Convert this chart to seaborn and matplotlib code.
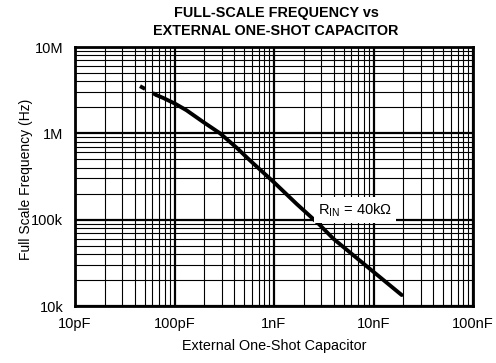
import matplotlib
matplotlib.use("Agg")
import matplotlib.pyplot as plt
import seaborn as sns
import numpy as np
import pandas as pd
from matplotlib.ticker import LogLocator, NullFormatter

sns.set_style("white")
plt.rcParams['font.family'] = ['Liberation Sans', 'DejaVu Sans']
plt.rcParams['text.color'] = 'black'
plt.rcParams['axes.labelcolor'] = 'black'
plt.rcParams['xtick.color'] = 'black'
plt.rcParams['ytick.color'] = 'black'

# Data (capacitance in pF, frequency in Hz)
dash_cap = [45, 66]
dash_freq = [3.52e6, 2.77e6]
solid_cap = [66, 77, 101, 132, 195, 287, 422, 574, 1020, 1690, 2850, 3960, 8500, 19200]
solid_freq = [2.77e6, 2.57e6, 2.21e6, 1.85e6, 1.35e6, 1.0e6, 680e3, 485e3, 265e3,
              152e3, 88e3, 60e3, 29e3, 13.4e3]

x_ticks = [10, 100, 1000, 10000, 100000]
x_labels = ['10pF', '100pF', '1nF', '10nF', '100nF']
y_ticks = [1e4, 1e5, 1e6, 1e7]
y_labels = ['10k', '100k', '1M', '10M']

fig = plt.figure(figsize=(4.96, 3.63), dpi=100)
ax = fig.add_axes([75/496, 1-306/363, (473-75)/496, (306-47)/363])
ax.set_xscale('log')
ax.set_yscale('log')
ax.set_xlim(10, 1e5)
ax.set_ylim(1e4, 1e7)

ax.xaxis.set_minor_locator(LogLocator(base=10, subs=np.arange(2, 10)))
ax.yaxis.set_minor_locator(LogLocator(base=10, subs=np.arange(2, 10)))
ax.xaxis.set_minor_formatter(NullFormatter())
ax.yaxis.set_minor_formatter(NullFormatter())
ax.grid(which='major', color='black', linewidth=1.6)
ax.grid(which='minor', color='black', linewidth=0.8)
ax.set_axisbelow(True)

df_s = pd.DataFrame({'cap': solid_cap, 'freq': solid_freq})
df_d = pd.DataFrame({'cap': dash_cap, 'freq': dash_freq})
sns.lineplot(data=df_s, x='cap', y='freq', ax=ax, color='black', linewidth=2.8, sort=False, zorder=3)
sns.lineplot(data=df_d, x='cap', y='freq', ax=ax, color='black', linewidth=2.8, sort=False,
             linestyle=(0, (1.5, 2.2)), zorder=3)

ax.set_xticks(x_ticks)
ax.set_xticklabels(x_labels, fontsize=10.5)
ax.set_yticks(y_ticks)
ax.set_yticklabels(y_labels, fontsize=10.5)
ax.tick_params(which='both', length=0)
ax.tick_params(axis='x', pad=8)
ax.tick_params(axis='y', pad=8.5)

for s in ax.spines.values():
    s.set_visible(True)
    s.set_color('black')
    s.set_linewidth(2)

ax.set_xlabel('External One-Shot Capacitor', fontsize=10.4, labelpad=6)
ax.set_ylabel('Full Scale Frequency (Hz)', fontsize=10)
ax.yaxis.set_label_coords(-0.105, 0.49)

ax.text(6500, 1.3e5, r'R$_{\mathregular{IN}}$ = 40k$\mathregular{\Omega}$',
        fontsize=10.5, ha='center', va='center', zorder=4,
        bbox=dict(facecolor='white', edgecolor='none', pad=3))

fig.text(276/496, 1-13/363, 'FULL-SCALE FREQUENCY vs', ha='center', va='center',
         fontsize=10.4, fontweight='bold')
fig.text(276/496, 1-31/363, 'EXTERNAL ONE-SHOT CAPACITOR', ha='center', va='center',
         fontsize=10.4, fontweight='bold')

fig.savefig('out.png', dpi=100, facecolor='white')
